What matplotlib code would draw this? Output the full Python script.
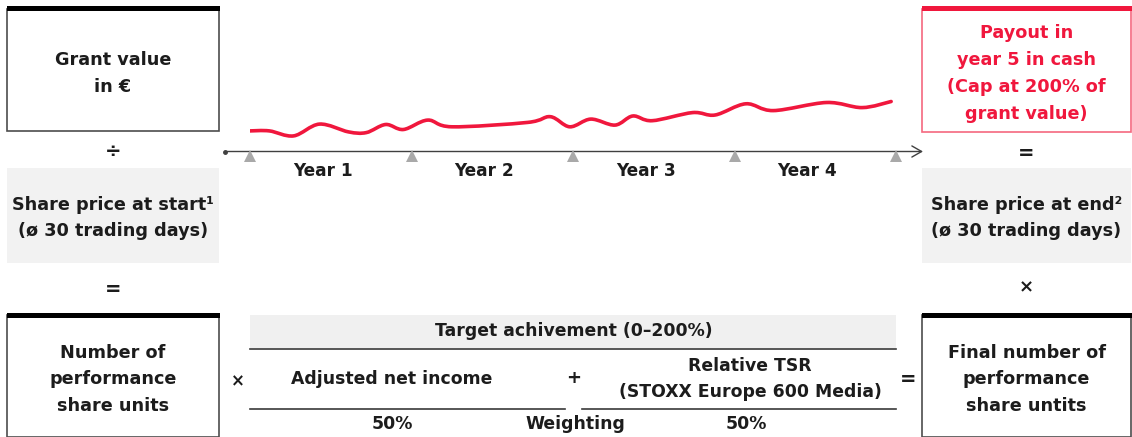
"""Performance share plan diagram: grant value -> PSUs -> payout."""
import matplotlib
matplotlib.use("Agg")
import matplotlib.pyplot as plt
from matplotlib.patches import Rectangle, PathPatch
from matplotlib.path import Path

# share price curve along the 4-year timeline (x in years, level above the axis)
price_years = [0.00, 0.12, 0.27, 0.43, 0.61, 0.72, 0.84, 0.95, 1.10, 1.25,
               1.72, 1.86, 1.98, 2.11, 2.26, 2.37, 2.49, 2.74, 2.88, 3.07,
               3.24, 3.57, 3.79, 3.97]
price_level = [20.6, 20.6, 15.6, 27.4, 19.6, 18.9, 27.0, 22.0, 31.4, 24.7,
               29.1, 34.8, 24.7, 32.4, 26.4, 35.5, 30.8, 38.9, 36.5, 47.7,
               40.9, 49.0, 43.9, 50.0]
year_marks = [0, 1, 2, 3, 4]
year_labels = ["Year 1", "Year 2", "Year 3", "Year 4"]

grant_lines = ["Grant value", "in \u20ac"]
payout_lines = ["Payout in", "year 5 in cash", "(Cap at 200% of", "grant value)"]
start_price_lines = ["Share price at start\u00b9", "(\u00f8 30 trading days)"]
end_price_lines = ["Share price at end\u00b2", "(\u00f8 30 trading days)"]
psu_lines = ["Number of", "performance", "share units"]
final_lines = ["Final number of", "performance", "share untits"]

target_header = "Target achivement (0\u2013200%)"
kpi_names = ["Adjusted net income", "Relative TSR\n(STOXX Europe 600 Media)"]
kpi_weights = ["50%", "50%"]

RED = "#f0173d"
DARK = "#1c1c1c"
GREY_FILL = "#f2f2f2"
FONT = ["DejaVu Sans"]

plt.rcParams["font.family"] = FONT

fig = plt.figure(figsize=(11.32, 4.37), dpi=100)
ax = fig.add_axes([0, 0, 1, 1])
ax.set_xlim(0, 1132)
ax.set_ylim(437, 0)
ax.axis("off")


def bold_block(lines, xc, y0, step=26.7, color=DARK, size=12.7):
    for i, s in enumerate(lines):
        ax.text(xc, y0 + i * step, s, ha="center", va="center", fontsize=size,
                fontweight="bold", color=color)


def frame(x0, x1, y0, y1, edge, bar):
    ax.add_patch(Rectangle((x0, y0), x1 - x0, y1 - y0, facecolor="white",
                           edgecolor=edge, linewidth=1.2, zorder=2))
    ax.add_patch(Rectangle((x0 - 0.5, y0 - 2.5), x1 - x0 + 1, 5,
                           facecolor=bar, edgecolor="none", zorder=3))


LX0, LX1 = 7, 219
RX0, RX1 = 922, 1131
lxc = (LX0 + LX1) / 2
rxc = (RX0 + RX1) / 2

# left column
frame(LX0, LX1, 8.5, 131, "#4d4d4d", "black")
bold_block(grant_lines, lxc, 60)
ax.text(lxc, 152, "\u00f7", ha="center", va="center", fontsize=14,
        fontweight="bold", color=DARK)
ax.add_patch(Rectangle((LX0, 168), LX1 - LX0, 95, facecolor=GREY_FILL,
                       edgecolor="none"))
bold_block(start_price_lines, lxc, 204.5)
ax.text(lxc, 290, "=", ha="center", va="center", fontsize=14,
        fontweight="bold", color=DARK)
frame(LX0, LX1, 315, 436.5, "#4d4d4d", "black")
bold_block(psu_lines, lxc, 352.5)

# right column
frame(RX0, RX1, 8.5, 131.5, "#f5687f", RED)
bold_block(payout_lines, rxc, 33.5, color=RED)
ax.text(rxc, 153, "=", ha="center", va="center", fontsize=14,
        fontweight="bold", color=DARK)
ax.add_patch(Rectangle((RX0, 168), RX1 - RX0, 95, facecolor=GREY_FILL,
                       edgecolor="none"))
bold_block(end_price_lines, rxc, 204.5)
ax.text(rxc, 287, "\u00d7", ha="center", va="center", fontsize=13,
        fontweight="bold", color=DARK)
frame(RX0, RX1, 315, 436.5, "#4d4d4d", "black")
bold_block(final_lines, rxc, 352.5)

# timeline
ax.annotate("", xy=(923, 151.5), xytext=(225, 151.5),
            arrowprops=dict(arrowstyle="->,head_length=0.7,head_width=0.4",
                            lw=1.0, color="#404040", shrinkA=0, shrinkB=0))
ax.plot([225], [151.5], "o", ms=2.5, color="#404040")

tl = fig.add_axes([250 / 1132, (437 - 151.5) / 437, 646 / 1132, 70 / 437])
tl.set_xlim(0, 4)
tl.set_ylim(0, 70)
tl.axis("off")
tl.patch.set_alpha(0)

# smooth curve through the read points (Catmull-Rom as cubic Beziers)
pts = list(zip(price_years, price_level))
verts = [pts[0]]
codes = [Path.MOVETO]
for i in range(len(pts) - 1):
    p0 = pts[max(i - 1, 0)]
    p1 = pts[i]
    p2 = pts[i + 1]
    p3 = pts[min(i + 2, len(pts) - 1)]
    c1 = (p1[0] + (p2[0] - p0[0]) / 6, p1[1] + (p2[1] - p0[1]) / 6)
    c2 = (p2[0] - (p3[0] - p1[0]) / 6, p2[1] - (p3[1] - p1[1]) / 6)
    verts += [c1, c2, p2]
    codes += [Path.CURVE4] * 3
tl.add_patch(PathPatch(Path(verts, codes), facecolor="none", edgecolor=RED,
                       lw=2.6, capstyle="round", joinstyle="round"))

tl.plot(year_marks, [-4.6] * len(year_marks), "^", ms=8, color="#a9a9a9",
        markeredgewidth=0, clip_on=False)
for i, lab in enumerate(year_labels):
    tl.text(i + 0.45, -19.5, lab, ha="center", va="center", fontsize=12.2,
            fontweight="bold", color=DARK)

# target achievement block
mid = dict(ha="center", va="center", fontsize=12.4, fontweight="bold",
           color=DARK)
ax.add_patch(Rectangle((250, 315), 646, 33, facecolor="#f0f0f0",
                       edgecolor="none"))
ax.text(574, 331, target_header, **mid)
ax.plot([250, 896], [349, 349], color="#3a3a3a", lw=1.2)
ax.plot([250, 565], [408.5, 408.5], color="#3a3a3a", lw=1.2)
ax.plot([582, 896], [408.5, 408.5], color="#3a3a3a", lw=1.2)
ax.text(392, 379, kpi_names[0], **mid)
ax.text(750, 379, kpi_names[1], linespacing=1.55, **mid)
ax.text(392, 424, kpi_weights[0], **mid)
ax.text(575, 424, "Weighting", **mid)
ax.text(746, 424, kpi_weights[1], **mid)
ax.text(238, 381, "\u00d7", ha="center", va="center", fontsize=12,
        fontweight="bold", color=DARK)
ax.text(574, 378, "+", ha="center", va="center", fontsize=13,
        fontweight="bold", color=DARK)
ax.text(908, 379, "=", ha="center", va="center", fontsize=14,
        fontweight="bold", color=DARK)

fig.savefig("out.png", dpi=100)
